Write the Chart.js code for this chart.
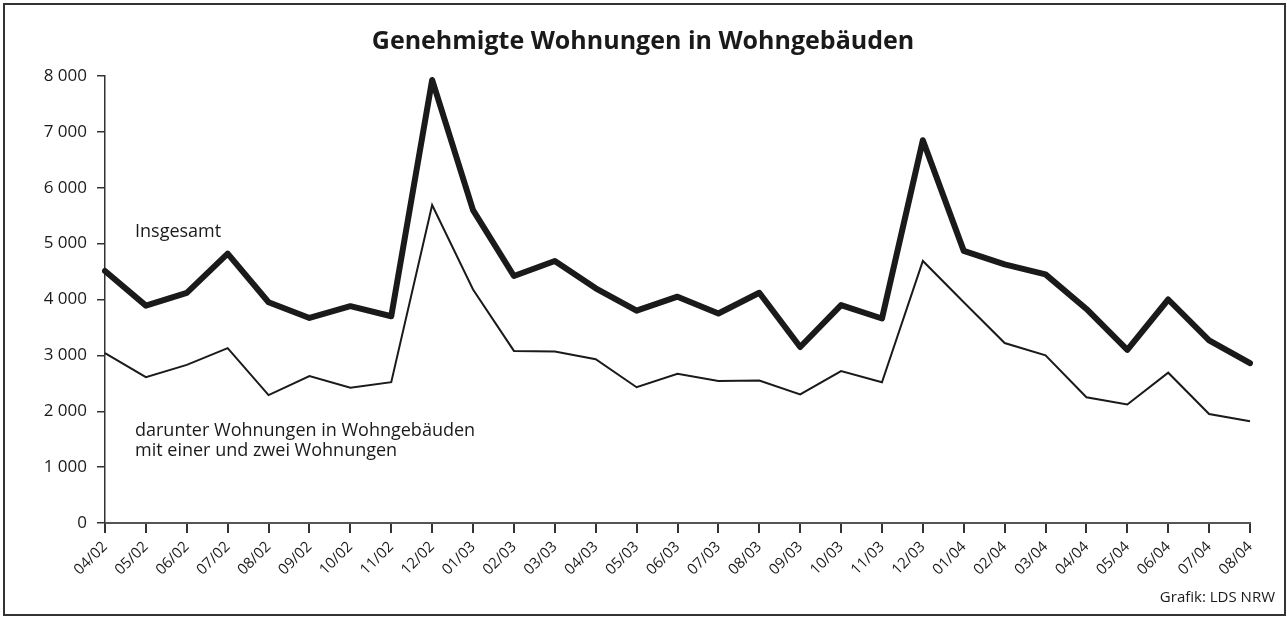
<!DOCTYPE html>
<html>
<head>
<meta charset="utf-8">
<script src="https://cdn.jsdelivr.net/npm/chart.js@4/dist/chart.umd.min.js"></script>
<style>
html,body{margin:0;padding:0;background:#fff;}
#wrap{position:relative;width:1287px;height:617px;}
canvas{display:block;}
</style>
</head>
<body>
<div id="wrap"><canvas id="c" width="1287" height="617"></canvas></div>
<script>
const categories = ["04/02","05/02","06/02","07/02","08/02","09/02","10/02","11/02","12/02",
  "01/03","02/03","03/03","04/03","05/03","06/03","07/03","08/03","09/03","10/03","11/03","12/03",
  "01/04","02/04","03/04","04/04","05/04","06/04","07/04","08/04"];
const insgesamt = [4510,3890,4120,4820,3950,3670,3880,3700,7930,
  5600,4420,4690,4200,3800,4050,3750,4120,3150,3900,3660,6850,
  4870,4630,4450,3830,3100,4000,3270,2860];
const einZwei = [3040,2610,2830,3130,2290,2630,2420,2520,5690,
  4180,3080,3070,2930,2430,2670,2540,2550,2300,2720,2520,4690,
  3950,3220,3000,2250,2120,2690,1950,1820];
const yTicks = [0,1000,2000,3000,4000,5000,6000,7000,8000];
const titleText = "Genehmigte Wohnungen in Wohngebäuden";
const labelTotal = "Insgesamt";
const labelSub = ["darunter Wohnungen in Wohngebäuden","mit einer und zwei Wohnungen"];
const sourceText = "Grafik: LDS NRW";

const FONT = "'Open Sans', 'Noto Sans', sans-serif";
const INK = "#1a1a1a";

const decor = {
  id: 'decor',
  afterDraw(chart) {
    const ctx = chart.ctx;
    ctx.save();
    ctx.strokeStyle = "#333";
    ctx.lineWidth = 2;
    ctx.strokeRect(4, 4, 1281, 611);
    ctx.fillStyle = INK;
    ctx.font = "bold 25px " + FONT;
    ctx.textAlign = "center";
    ctx.textBaseline = "middle";
    ctx.fillText(titleText, 643, 42);
    ctx.font = "18px " + FONT;
    ctx.textAlign = "left";
    ctx.fillText(labelTotal, 135, 232);
    ctx.fillText(labelSub[0], 135, 431);
    ctx.fillText(labelSub[1], 135, 451);
    ctx.font = "15px " + FONT;
    ctx.textAlign = "right";
    ctx.fillText(sourceText, 1275, 598);
    ctx.restore();
  }
};

new Chart(document.getElementById('c'), {
  type: 'line',
  data: {
    labels: categories,
    datasets: [
      { data: insgesamt, borderColor: INK, borderWidth: 6, pointRadius: 0, tension: 0, borderJoinStyle: 'round', borderCapStyle: 'round' },
      { data: einZwei, borderColor: INK, borderWidth: 2, pointRadius: 0, tension: 0, borderJoinStyle: 'miter' }
    ]
  },
  options: {
    responsive: false,
    animation: false,
    events: [],
    layout: { padding: { left: 0, top: 76, right: 37, bottom: 0 } },
    plugins: { legend: { display: false }, title: { display: false }, tooltip: { enabled: false } },
    scales: {
      x: {
        offset: false,
        grid: { display: true, drawOnChartArea: false, drawTicks: true, tickLength: 10, color: "#333", lineWidth: 2 },
        border: { display: true, color: "#555", width: 2 },
        ticks: { minRotation: 45, maxRotation: 45, autoSkip: false, color: INK, font: { family: FONT, size: 15 }, padding: 5 },
        afterFit(scale) { scale.height = 94; }
      },
      y: {
        min: 0, max: 8000,
        afterBuildTicks(scale) { scale.ticks = yTicks.map(v => ({ value: v })); },
        grid: { display: true, drawOnChartArea: false, drawTicks: true, tickLength: 8, color: "#333", lineWidth: 1.5 },
        border: { display: true, color: "#333", width: 1.5 },
        ticks: { color: INK, font: { family: FONT, size: 17 }, padding: 10,
          callback: v => String(v).replace(/\B(?=(\d{3})+(?!\d))/g, " ") },
        afterFit(scale) { scale.width = 105; }
      }
    }
  },
  plugins: [decor]
});
</script>
</body>
</html>
